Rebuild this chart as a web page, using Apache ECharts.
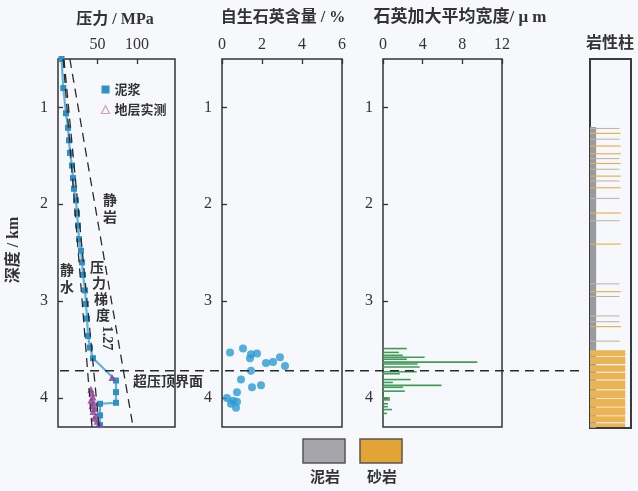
<!DOCTYPE html>
<html>
<head>
<meta charset="utf-8">
<script src="https://cdn.jsdelivr.net/npm/echarts@6/dist/echarts.min.js"></script>
<style>
  html, body { margin: 0; padding: 0; background: #f6f8fb; }
  #chart { width: 638px; height: 491px; }
</style>
</head>
<body>
<div id="chart"></div>
<script>
// ---- depth range (km) shared by all panels ----
const depthMin = 0.5;
const depthMax = 4.3;
const depthTicks = [1, 2, 3, 4];
const overpressureTop = 3.72;

// ---- panel 1: pressure (MPa) ----
const mudPressure = [4.5, 6.7, 10.1, 12.7, 13.9, 15.2, 17.7, 19.0, 20.2, 22.8, 24.0, 25.3, 26.6, 29.1, 30.4, 31.6, 34.2, 35.4, 36.7, 38.0, 40.5, 44.3, 73.4, 73.4, 73.4, 53.1, 53.1, 53.1];
const mudDepth    = [0.50, 0.80, 1.06, 1.21, 1.34, 1.47, 1.60, 1.73, 1.84, 1.96, 2.09, 2.22, 2.36, 2.48, 2.60, 2.73, 2.89, 3.03, 3.18, 3.36, 3.48, 3.59, 3.82, 3.94, 4.05, 4.06, 4.18, 4.28];
const measPressure = [68.3, 41.7, 43.0, 44.3, 41.7, 45.5, 43.0, 46.8, 44.3, 48.1, 45.5, 49.3, 51.9];
const measDepth    = [3.79, 3.91, 3.95, 3.99, 4.02, 4.05, 4.08, 4.11, 4.14, 4.18, 4.21, 4.24, 4.27];
// reference gradients: [pressure, depth] at top and bottom of the section
const hydrostatic = [[6.5, 0.5], [43, 4.3]];
const gradient127 = [[7.5, 0.5], [52, 4.3]];
const lithostatic = [[15, 0.5], [95, 4.3]];
const pressureMax = 148;

// ---- panel 2: authigenic quartz content (%) ----
const quartzContent = [0.4, 1.05, 1.45, 1.75, 1.4, 2.2, 2.55, 2.9, 3.15, 1.45, 0.95, 1.5, 1.95, 0.75, 0.25, 0.55, 0.75, 0.7, 0.45];
const quartzDepth   = [3.53, 3.49, 3.55, 3.54, 3.59, 3.64, 3.63, 3.58, 3.67, 3.72, 3.81, 3.89, 3.87, 3.94, 4.00, 4.03, 4.04, 4.10, 4.06];

// ---- panel 3: mean quartz overgrowth width (μm) ----
const overgrowthWidth = [2.4, 1.6, 2.0, 4.2, 2.4, 9.5, 3.5, 3.7, 3.4, 1.7, 2.8, 1.0, 5.9, 2.0, 2.2, 0.7, 0.7, 0.5, 0.5, 0.9, 0.4];
const overgrowthDepth = [3.49, 3.53, 3.56, 3.58, 3.60, 3.63, 3.65, 3.68, 3.73, 3.75, 3.81, 3.84, 3.87, 3.89, 3.93, 4.00, 4.02, 4.06, 4.09, 4.12, 4.16];

// ---- panel 4: lithology column ----
const mudstoneStrip = [1.20, 4.30];
const thinSandDepth = [1.26, 1.39, 1.47, 1.57, 1.70, 1.82, 2.08, 2.40, 2.89, 3.25];
const thinMudDepth  = [1.21, 1.32, 1.52, 1.63, 1.75, 1.93, 2.16, 2.81, 2.94, 3.14, 3.20, 3.40];
const sandBeds = [[3.50, 3.56], [3.57, 3.64], [3.655, 3.72], [3.73, 3.80], [3.81, 3.90], [3.91, 3.99], [4.00, 4.08], [4.09, 4.17], [4.18, 4.24], [4.25, 4.29]];

const serif = "'Liberation Serif', 'Noto Sans CJK SC', serif";
const ink = '#333';
const gridTop = 59, gridHeight = 368;

function depthAxis(idx, showLabels) {
  return {
    type: 'value', gridIndex: idx, min: depthMin, max: depthMax, inverse: true,
    axisLine: { show: false },
    splitLine: { show: false },
    axisTick: { show: showLabels, inside: true, length: 5, lineStyle: { color: ink, width: 1.3 }, customValues: depthTicks },
    axisLabel: { show: showLabels, customValues: depthTicks, margin: 10, fontFamily: serif, fontSize: 16, color: ink }
  };
}
function topAxis(idx, max, interval, hideEnds) {
  return {
    type: 'value', gridIndex: idx, position: 'top', min: 0, max: max, interval: interval,
    axisLine: { show: false }, splitLine: { show: false },
    axisTick: { show: true, inside: true, length: 5, lineStyle: { color: ink, width: 1.3 } },
    axisLabel: { margin: 6, fontFamily: serif, fontSize: 16, color: ink, showMinLabel: !hideEnds, showMaxLabel: !hideEnds }
  };
}
function zip(xs, ys) { return xs.map((v, i) => [v, ys[i]]); }

const lithoData = [];
lithoData.push([mudstoneStrip[0], mudstoneStrip[1], 0.15, 'mud']);
thinMudDepth.forEach(d => lithoData.push([d, d + 0.011, 0.72, 'thinmud']));
thinSandDepth.forEach(d => lithoData.push([d, d + 0.012, 0.75, 'thinsand']));
sandBeds.forEach(b => lithoData.push([b[0], b[1], 0.86, 'sand']));
const lithoColor = { mud: '#9a9aa2', thinmud: '#bdb6a8', thinsand: '#e6b04e', sand: '#eab454' };

const chart = echarts.init(document.getElementById('chart'));

const option = {
  backgroundColor: '#f6f8fb',
  animation: false,
  grid: [
    { left: 58, top: gridTop, width: 117, height: gridHeight, show: true, borderColor: ink, borderWidth: 1.5, backgroundColor: 'transparent' },
    { left: 222, top: gridTop, width: 120, height: gridHeight, show: true, borderColor: ink, borderWidth: 1.5 },
    { left: 383, top: gridTop, width: 119, height: gridHeight, show: true, borderColor: ink, borderWidth: 1.5 },
    { left: 590, top: gridTop, width: 41, height: gridHeight + 1, show: true, borderColor: '#3a3a3a', borderWidth: 2 }
  ],
  xAxis: [
    topAxis(0, pressureMax, 50, true),
    topAxis(1, 6, 2, false),
    topAxis(2, 12, 4, false),
    { type: 'value', gridIndex: 3, min: 0, max: 1, show: false }
  ],
  yAxis: [
    depthAxis(0, true),
    depthAxis(1, true),
    depthAxis(2, true),
    Object.assign(depthAxis(3, false), { show: false })
  ],
  legend: {
    orient: 'vertical', left: 94, top: 78, itemWidth: 8, itemHeight: 8, itemGap: 7,
    textStyle: { fontSize: 13, color: ink, fontWeight: 'bold', fontFamily: 'Noto Sans CJK SC' },
    data: [
      { name: '泥浆', icon: 'rect', itemStyle: { color: '#2f8fc6' } },
      { name: '地层实测', icon: 'triangle', itemStyle: { color: 'none', borderColor: '#c48ab6', borderWidth: 1.2 } }
    ]
  },
  series: [
    {
      name: '泥浆', type: 'line', xAxisIndex: 0, yAxisIndex: 0,
      data: zip(mudPressure, mudDepth),
      symbol: 'rect', symbolSize: 6,
      lineStyle: { color: '#5fb4de', width: 2.2 },
      itemStyle: { color: '#2f8fc6' }, z: 3
    },
    {
      name: '地层实测', type: 'scatter', xAxisIndex: 0, yAxisIndex: 0,
      data: zip(measPressure, measDepth),
      symbol: 'triangle', symbolSize: 7,
      itemStyle: { color: '#8b3b94' }, z: 4
    },
    ...[hydrostatic, gradient127, lithostatic].map(seg => ({
      type: 'line', xAxisIndex: 0, yAxisIndex: 0, data: seg, symbol: 'none', silent: true,
      lineStyle: { color: '#2b2b2b', width: 1.3, type: [9, 6] }, z: 5
    })),
    {
      type: 'scatter', xAxisIndex: 1, yAxisIndex: 1,
      data: zip(quartzContent, quartzDepth),
      symbolSize: 8, itemStyle: { color: '#2b9ad6' }
    },
    {
      type: 'custom', xAxisIndex: 2, yAxisIndex: 2,
      data: zip(overgrowthWidth, overgrowthDepth),
      renderItem: function (params, api) {
        const p0 = api.coord([0, api.value(1)]);
        const p1 = api.coord([api.value(0), api.value(1)]);
        return { type: 'rect', shape: { x: p0[0], y: p0[1] - 0.8, width: p1[0] - p0[0], height: 1.6 },
                 style: { fill: '#3f9b57' } };
      }
    },
    {
      type: 'custom', xAxisIndex: 3, yAxisIndex: 3,
      data: lithoData,
      renderItem: function (params, api) {
        const item = lithoData[params.dataIndex];
        const a = api.coord([0, item[0]]);
        const b = api.coord([item[2], item[1]]);
        return { type: 'rect', shape: { x: a[0], y: a[1], width: b[0] - a[0], height: Math.max(1, b[1] - a[1]) },
                 style: { fill: lithoColor[item[3]] } };
      }
    }
  ]
};
chart.setOption(option);

// overlay texts and the overpressure-top boundary
const yTop = chart.convertToPixel({ yAxisIndex: 0 }, overpressureTop);
const xStart = chart.convertToPixel({ xAxisIndex: 0 }, 0);
const xEnd = chart.convertToPixel({ xAxisIndex: 3 }, 0) - 6;

function txt(text, x, y, size, extra) {
  return Object.assign({ type: 'text', x: x, y: y, z: 50,
    style: Object.assign({ text: text, fontSize: size, fill: ink, fontFamily: serif, fontWeight: 'bold',
      align: 'center', verticalAlign: 'middle' }, extra && extra.style) }, extra && extra.el);
}

const graphics = [
  { type: 'line', z: 40, shape: { x1: xStart + 2, y1: yTop, x2: xEnd, y2: yTop },
    style: { stroke: '#2b2b2b', lineWidth: 1.5, lineDash: [9, 6] } },
  txt('压力 / MPa', 115, 20, 16),
  txt('自生石英含量 / %', 283, 18, 16),
  txt('石英加大平均宽度/ μ m', 460, 18, 17),
  txt('岩性柱', 610, 44, 16),
  txt('深度 / km', 14, 250, 16, { el: { rotation: Math.PI / 2 } }),
  txt('静', 110, 201, 14), txt('岩', 110, 218, 14),
  txt('静', 67, 271, 14), txt('水', 67, 288, 14),
  txt('压', 97, 268, 14), txt('力', 99, 284, 14), txt('梯', 101, 300, 14), txt('度', 103, 316, 14),
  txt('1.27', 107, 338, 14, { el: { rotation: -Math.PI / 2 } }),
  txt('超压顶界面', 133, yTop + 12, 14, { style: { align: 'left' } }),
  { type: 'rect', shape: { x: 303, y: 439, width: 42, height: 24 }, style: { fill: '#a5a5ab', stroke: '#555', lineWidth: 1.5 } },
  { type: 'rect', shape: { x: 360, y: 439, width: 42, height: 24 }, style: { fill: '#e2a535', stroke: '#555', lineWidth: 1.5 } },
  txt('泥岩', 325, 478, 15),
  txt('砂岩', 382, 478, 15)
];
chart.setOption({ graphic: graphics });
</script>
</body>
</html>
